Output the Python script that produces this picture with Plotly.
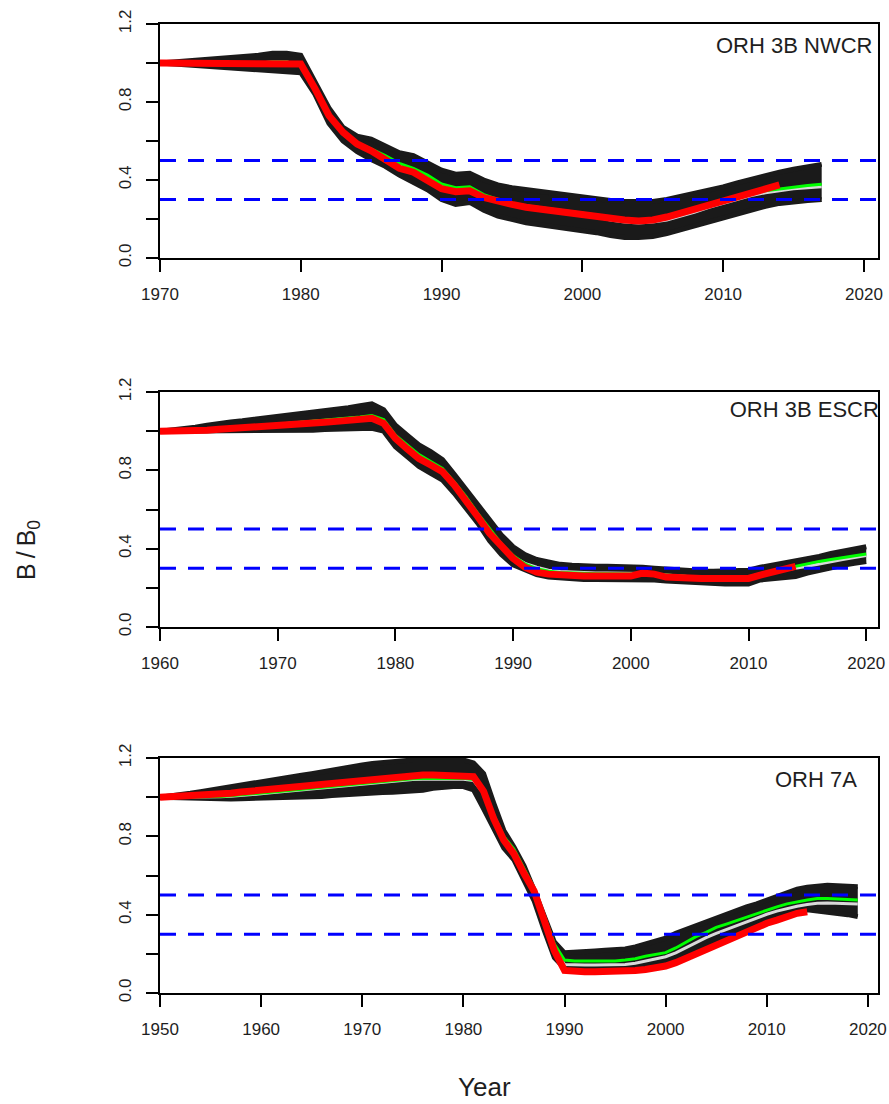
import plotly.graph_objects as go

W, H = 889, 1104

# ---------------- ORH 3B NWCR ----------------
nwcr_years = list(range(1970, 2018))
nwcr_upper = [1.00, 1.005, 1.01, 1.015, 1.02, 1.03, 1.035, 1.04, 1.05, 1.05,
              1.04, 0.90, 0.77, 0.67, 0.625, 0.61, 0.575, 0.54, 0.525, 0.49,
              0.45, 0.43, 0.435, 0.40, 0.375, 0.36, 0.35, 0.34, 0.33, 0.32,
              0.315, 0.305, 0.295, 0.29, 0.29, 0.29, 0.30, 0.315, 0.33, 0.35,
              0.365, 0.385, 0.405, 0.425, 0.44, 0.455, 0.47, 0.48]
nwcr_lower = [1.00, 0.995, 0.99, 0.985, 0.98, 0.975, 0.97, 0.965, 0.96, 0.955,
              0.95, 0.84, 0.69, 0.60, 0.545, 0.505, 0.47, 0.425, 0.39, 0.35,
              0.30, 0.275, 0.285, 0.245, 0.215, 0.195, 0.18, 0.17, 0.16, 0.15,
              0.145, 0.13, 0.115, 0.105, 0.105, 0.11, 0.125, 0.145, 0.165, 0.19,
              0.21, 0.23, 0.25, 0.265, 0.28, 0.29, 0.295, 0.30]
nwcr_median = [1.00, 1.00, 1.00, 1.00, 1.00, 1.00, 1.00, 1.00, 1.005, 1.005,
               0.99, 0.87, 0.73, 0.635, 0.585, 0.555, 0.52, 0.48, 0.455, 0.42,
               0.375, 0.355, 0.36, 0.32, 0.295, 0.275, 0.26, 0.25, 0.24, 0.23,
               0.22, 0.21, 0.195, 0.185, 0.18, 0.185, 0.195, 0.215, 0.235, 0.26,
               0.28, 0.30, 0.32, 0.335, 0.345, 0.355, 0.36, 0.365]
nwcr_alt = [1.00, 1.00, 1.00, 1.00, 1.00, 1.00, 1.00, 1.00, 1.005, 1.005,
            0.99, 0.875, 0.735, 0.64, 0.59, 0.56, 0.525, 0.485, 0.46, 0.425,
            0.38, 0.36, 0.365, 0.325, 0.30, 0.28, 0.268, 0.258, 0.248, 0.238,
            0.23, 0.22, 0.205, 0.195, 0.19, 0.195, 0.205, 0.225, 0.245, 0.27,
            0.29, 0.31, 0.33, 0.345, 0.355, 0.365, 0.372, 0.378]
nwcr_prev_years = list(range(1970, 2015))
nwcr_prev = [1.00, 1.00, 1.00, 1.00, 1.00, 1.00, 1.00, 1.00, 1.00, 1.00,
             0.995, 0.87, 0.73, 0.645, 0.585, 0.55, 0.505, 0.46, 0.44, 0.40,
             0.355, 0.34, 0.345, 0.31, 0.29, 0.275, 0.26, 0.25, 0.24, 0.23,
             0.22, 0.21, 0.20, 0.195, 0.19, 0.195, 0.21, 0.23, 0.25, 0.275,
             0.297, 0.315, 0.335, 0.355, 0.375]

# ---------------- ORH 3B ESCR ----------------
escr_years = list(range(1960, 2021))
escr_upper = [1.00, 1.005, 1.01, 1.02, 1.03, 1.04, 1.047, 1.053, 1.06, 1.067,
              1.074, 1.08, 1.087, 1.095, 1.10, 1.11, 1.12, 1.13, 1.14, 1.11,
              1.03, 0.98, 0.93, 0.895, 0.855, 0.78, 0.70, 0.62, 0.545, 0.47,
              0.41, 0.37, 0.345, 0.33, 0.32, 0.315, 0.31, 0.31, 0.31, 0.31,
              0.31, 0.305, 0.30, 0.295, 0.29, 0.285, 0.285, 0.285, 0.285, 0.285,
              0.29, 0.305, 0.315, 0.325, 0.335, 0.35, 0.36, 0.375, 0.385, 0.395,
              0.41]
escr_lower = [1.00, 1.00, 1.00, 1.00, 1.00, 1.00, 1.00, 1.00, 1.00, 1.00,
              1.00, 1.00, 1.002, 1.005, 1.008, 1.01, 1.012, 1.015, 1.015, 1.00,
              0.92, 0.87, 0.82, 0.785, 0.75, 0.683, 0.606, 0.53, 0.44, 0.37,
              0.317, 0.29, 0.268, 0.255, 0.249, 0.245, 0.243, 0.243, 0.243, 0.243,
              0.243, 0.243, 0.24, 0.235, 0.232, 0.228, 0.222, 0.22, 0.22, 0.22,
              0.22, 0.24, 0.245, 0.252, 0.258, 0.275, 0.29, 0.305, 0.315, 0.325,
              0.334]
escr_median = [1.00, 1.00, 1.002, 1.005, 1.008, 1.012, 1.016, 1.02, 1.025, 1.03,
               1.034, 1.038, 1.043, 1.048, 1.053, 1.058, 1.063, 1.068, 1.075, 1.055,
               0.975, 0.925, 0.875, 0.84, 0.805, 0.735, 0.66, 0.575, 0.495, 0.42,
               0.36, 0.325, 0.305, 0.29, 0.283, 0.28, 0.277, 0.276, 0.276, 0.276,
               0.275, 0.273, 0.27, 0.265, 0.26, 0.256, 0.253, 0.252, 0.252, 0.252,
               0.254, 0.27, 0.28, 0.29, 0.298, 0.31, 0.322, 0.335, 0.345, 0.355,
               0.365]
escr_alt = [1.00, 1.00, 1.002, 1.005, 1.008, 1.012, 1.016, 1.02, 1.025, 1.03,
            1.036, 1.04, 1.045, 1.05, 1.055, 1.06, 1.066, 1.072, 1.08, 1.06,
            0.98, 0.93, 0.88, 0.845, 0.81, 0.74, 0.665, 0.58, 0.50, 0.425,
            0.365, 0.322, 0.298, 0.285, 0.278, 0.275, 0.273, 0.272, 0.272, 0.272,
            0.272, 0.272, 0.27, 0.265, 0.26, 0.256, 0.253, 0.252, 0.252, 0.252,
            0.255, 0.272, 0.285, 0.297, 0.31, 0.325, 0.335, 0.345, 0.355, 0.365,
            0.373]
escr_prev_years = list(range(1960, 2015))
escr_prev = [1.00, 1.00, 1.00, 1.00, 1.005, 1.01, 1.013, 1.017, 1.02, 1.024,
             1.027, 1.03, 1.035, 1.04, 1.045, 1.05, 1.055, 1.06, 1.066, 1.04,
             0.963, 0.91, 0.86, 0.827, 0.793, 0.725, 0.65, 0.563, 0.478, 0.41,
             0.35, 0.305, 0.28, 0.27, 0.265, 0.262, 0.26, 0.26, 0.26, 0.26,
             0.26, 0.275, 0.27, 0.255, 0.25, 0.248, 0.248, 0.248, 0.248, 0.248,
             0.248, 0.265, 0.28, 0.295, 0.31]

# ---------------- ORH 7A ----------------
a7_years = list(range(1950, 2020))
a7_upper = [1.00, 1.005, 1.01, 1.02, 1.028, 1.037, 1.045, 1.054, 1.062, 1.071,
            1.08, 1.088, 1.096, 1.104, 1.112, 1.12, 1.13, 1.14, 1.15, 1.158,
            1.165, 1.172, 1.178, 1.183, 1.187, 1.19, 1.19, 1.19, 1.19, 1.19,
            1.19, 1.175, 1.12, 0.97, 0.83, 0.745, 0.65, 0.525, 0.40, 0.26,
            0.205, 0.21, 0.212, 0.215, 0.218, 0.22, 0.225, 0.235, 0.25, 0.262,
            0.28, 0.305, 0.325, 0.345, 0.365, 0.385, 0.40, 0.42, 0.44, 0.455,
            0.475, 0.49, 0.51, 0.53, 0.54, 0.545, 0.55, 0.548, 0.545, 0.543]
a7_lower = [1.00, 0.998, 0.996, 0.994, 0.992, 0.99, 0.99, 0.991, 0.992, 0.993,
            0.994, 0.995, 0.997, 0.998, 0.999, 1.00, 1.004, 1.008, 1.012, 1.016,
            1.02, 1.022, 1.024, 1.025, 1.027, 1.028, 1.035, 1.045, 1.052, 1.054,
            1.054, 1.037, 0.94, 0.84, 0.74, 0.68, 0.58, 0.47, 0.32, 0.18,
            0.126, 0.126, 0.127, 0.13, 0.132, 0.134, 0.136, 0.138, 0.142, 0.15,
            0.16, 0.18, 0.20, 0.22, 0.245, 0.27, 0.29, 0.31, 0.33, 0.352,
            0.373, 0.39, 0.405, 0.42, 0.425, 0.42, 0.415, 0.405, 0.40, 0.39]
a7_median = [1.00, 1.00, 1.00, 1.00, 1.00, 1.00, 1.002, 1.005, 1.008, 1.012,
             1.017, 1.022, 1.027, 1.032, 1.037, 1.042, 1.047, 1.052, 1.057, 1.062,
             1.068, 1.073, 1.078, 1.083, 1.087, 1.09, 1.091, 1.092, 1.092, 1.092,
             1.092, 1.085, 1.02, 0.90, 0.79, 0.725, 0.625, 0.525, 0.385, 0.24,
             0.145, 0.143, 0.143, 0.143, 0.143, 0.144, 0.146, 0.152, 0.162, 0.172,
             0.185, 0.205, 0.232, 0.26, 0.283, 0.305, 0.325, 0.345, 0.365, 0.385,
             0.402, 0.418, 0.432, 0.443, 0.452, 0.458, 0.46, 0.458, 0.456, 0.455]
a7_alt = [1.00, 1.00, 1.00, 1.00, 1.00, 1.00, 1.003, 1.007, 1.011, 1.015,
          1.02, 1.025, 1.03, 1.035, 1.04, 1.045, 1.05, 1.055, 1.06, 1.065,
          1.072, 1.077, 1.082, 1.087, 1.091, 1.094, 1.095, 1.096, 1.096, 1.096,
          1.096, 1.09, 1.03, 0.91, 0.80, 0.735, 0.635, 0.535, 0.395, 0.25,
          0.168, 0.163, 0.163, 0.163, 0.163, 0.164, 0.168, 0.175, 0.188, 0.198,
          0.206, 0.23, 0.26, 0.288, 0.31, 0.335, 0.352, 0.37, 0.39, 0.408,
          0.424, 0.44, 0.455, 0.466, 0.475, 0.482, 0.483, 0.48, 0.477, 0.475]
a7_prev_years = list(range(1950, 2015))
a7_prev = [1.00, 1.002, 1.004, 1.006, 1.008, 1.01, 1.015, 1.02, 1.026, 1.031,
           1.037, 1.042, 1.046, 1.05, 1.055, 1.06, 1.066, 1.071, 1.077, 1.082,
           1.088, 1.093, 1.098, 1.103, 1.108, 1.113, 1.113, 1.113, 1.113, 1.113,
           1.113, 1.105, 1.03, 0.89, 0.78, 0.71, 0.61, 0.52, 0.37, 0.215,
           0.115, 0.11, 0.109, 0.109, 0.109, 0.109, 0.11, 0.115, 0.12, 0.128,
           0.138, 0.155, 0.178, 0.2, 0.225, 0.25, 0.27, 0.29, 0.315, 0.335,
           0.356, 0.372, 0.39, 0.407, 0.415]

# reference levels (fraction of B0)
ref_levels = [0.5, 0.3]
y_major = [0.0, 0.4, 0.8, 1.2]
y_major_text = ["0.0", "0.4", "0.8", "1.2"]
y_minor = [0.2, 0.6, 1.0]
x_starts = [1970, 1960, 1950]
x_end = 2021

panels = [
    (nwcr_years, nwcr_lower, nwcr_upper, nwcr_median, nwcr_alt, nwcr_prev_years, nwcr_prev),
    (escr_years, escr_lower, escr_upper, escr_median, escr_alt, escr_prev_years, escr_prev),
    (a7_years, a7_lower, a7_upper, a7_median, a7_alt, a7_prev_years, a7_prev),
]

# pixel geometry of each plot box (top, bottom)
boxes = [(24, 258), (392, 627), (758, 993)]
x_left, x_right = 160, 878

FONT = "Liberation Sans, Arial, sans-serif"
BAND = "#1a1a1a"
TXT = "#1e1e1e"

fig = go.Figure()
layout = dict(
    width=W, height=H, autosize=False,
    margin=dict(l=0, r=0, t=0, b=0, pad=0, autoexpand=False),
    paper_bgcolor="white", plot_bgcolor="white",
    showlegend=False,
    font=dict(family=FONT, color="black"),
)
shapes = []
annotations = []

for i, (yrs, lo, up, med, alt, pyrs, prev) in enumerate(panels):
    n = i + 1
    xa = "x" if n == 1 else f"x{n}"
    ya = "y" if n == 1 else f"y{n}"
    top, bot = boxes[i]

    # credible interval band
    fig.add_trace(go.Scatter(x=yrs, y=lo, xaxis=xa, yaxis=ya, mode="lines",
                             line=dict(color=BAND, width=5), hoverinfo="skip"))
    fig.add_trace(go.Scatter(x=yrs, y=up, xaxis=xa, yaxis=ya, mode="lines",
                             fill="tonexty", fillcolor=BAND,
                             line=dict(color=BAND, width=5), hoverinfo="skip"))
    # median
    fig.add_trace(go.Scatter(x=yrs, y=med, xaxis=xa, yaxis=ya, mode="lines",
                             line=dict(color="#d9d9d9", width=3), hoverinfo="skip"))
    # alternative run
    fig.add_trace(go.Scatter(x=yrs, y=alt, xaxis=xa, yaxis=ya, mode="lines",
                             line=dict(color="#00ff00", width=3), hoverinfo="skip"))
    # previous assessment
    fig.add_trace(go.Scatter(x=pyrs, y=prev, xaxis=xa, yaxis=ya, mode="lines",
                             line=dict(color="#ff0000", width=7), hoverinfo="skip"))

    x0 = x_starts[i]
    layout["xaxis" if n == 1 else f"xaxis{n}"] = dict(
        domain=[x_left / W, x_right / W], range=[x0, x_end], anchor=ya,
        tickvals=list(range(x0, 2021, 10)), ticks="outside", ticklen=12,
        tickwidth=1.5, tickcolor="black", showline=True, mirror=True,
        linecolor="black", linewidth=1.5, showgrid=False, zeroline=False,
        automargin=False,
        tickfont=dict(size=17, family=FONT, color=TXT), ticklabelstandoff=8,
    )
    layout["yaxis" if n == 1 else f"yaxis{n}"] = dict(
        domain=[1 - bot / H, 1 - top / H], range=[0, 1.2], anchor=xa,
        tickvals=y_major, ticktext=y_major_text, tickangle=-90,
        ticks="outside", ticklen=12, tickwidth=1.5, tickcolor="black",
        minor=dict(tickvals=y_minor, ticks="outside", ticklen=12,
                   tickwidth=1.5, tickcolor="black", showgrid=False),
        showline=True, mirror=True, linecolor="black", linewidth=1.5,
        showgrid=False, zeroline=False, automargin=False,
        tickfont=dict(size=17, family=FONT, color=TXT), ticklabelstandoff=8,
    )

    for lvl in ref_levels:
        shapes.append(dict(type="line", xref=f"{xa} domain", yref=ya,
                           x0=0, x1=1, y0=lvl, y1=lvl, layer="above",
                           line=dict(color="#0000ff", width=3, dash="16px,12px")))

# stock labels
annotations.append(dict(text="ORH 3B NWCR", xref="paper", yref="paper",
                        x=874 / W, y=1 - 45 / H, xanchor="right", yanchor="middle",
                        showarrow=False, font=dict(size=22, family=FONT, color=TXT)))
annotations.append(dict(text="ORH 7A", xref="paper", yref="paper",
                        x=859 / W, y=1 - 779.5 / H, xanchor="right", yanchor="middle",
                        showarrow=False, font=dict(size=22, family=FONT, color=TXT)))
# this label runs past the plot edge and is clipped by the axes
fig.add_trace(go.Scatter(x=[2008.4], y=[1.10], xaxis="x2", yaxis="y2", mode="text",
                         text=["ORH 3B ESCR"], textposition="middle right",
                         textfont=dict(size=22, family=FONT, color=TXT),
                         cliponaxis=True, hoverinfo="skip"))

# axis titles
annotations.append(dict(text="B\u2009/\u2009B<sub>0</sub>", xref="paper", yref="paper",
                        x=28 / W, y=1 - 550 / H, textangle=-90,
                        xanchor="center", yanchor="middle", showarrow=False,
                        font=dict(size=25, family=FONT, color=TXT)))
annotations.append(dict(text="Year", xref="paper", yref="paper",
                        x=484 / W, y=1 - 1087 / H, xanchor="center", yanchor="middle",
                        showarrow=False, font=dict(size=26, family=FONT, color=TXT)))

layout["shapes"] = shapes
layout["annotations"] = annotations
fig.update_layout(**layout)
fig.write_html("out.html")
